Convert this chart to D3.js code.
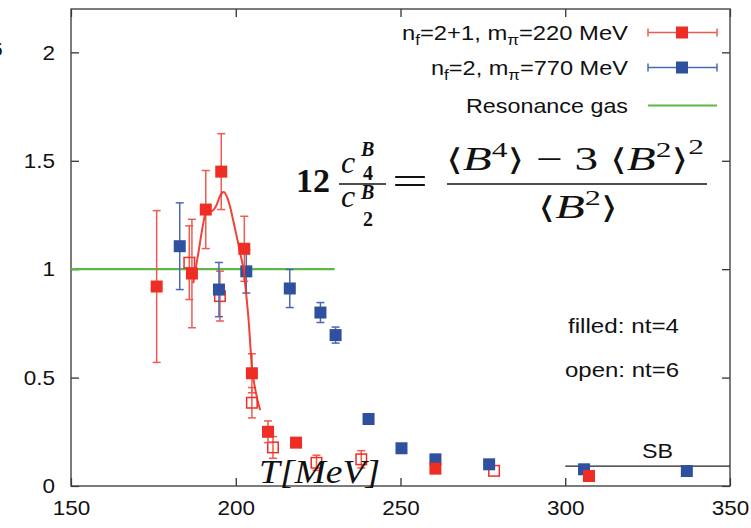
<!DOCTYPE html>
<html>
<head>
<meta charset="utf-8">
<script src="https://cdn.jsdelivr.net/npm/d3@7"></script>
<style>
  html, body { margin: 0; padding: 0; background: #fff; }
  svg { display: block; }
  .sans { font-family: "Liberation Sans", Arial, Helvetica, sans-serif; }
  .serif { font-family: "Liberation Serif", "DejaVu Serif", serif; }
</style>
</head>
<body>
<script>
// ---------------- DATA ----------------
const xTicks = [150, 200, 250, 300, 350];
const yTicks = [0, 0.5, 1, 1.5, 2];
const yTickLabels = ["0", "0.5", "1", "1.5", "2"];

// n_f=2+1, m_pi=220 MeV, filled (nt=4)
const red4T = [176.0, 186.7, 190.9, 195.6, 202.6, 204.9, 209.8, 218.3, 260.6, 307.2];
const red4Y = [0.92, 0.98, 1.275, 1.45, 1.094, 0.52, 0.25, 0.20, 0.08, 0.046];
const red4E = [0.35, 0.25, 0.18, 0.175, 0.15, 0.09, 0.05, 0.01, 0.0, 0.0];

// n_f=2+1, open (nt=6)
const red6T = [185.9, 195.2, 204.9, 211.3, 224.5, 238.1, 278.4];
const red6Y = [1.03, 0.876, 0.384, 0.178, 0.107, 0.123, 0.07];
const red6E = [0.17, 0.115, 0.07, 0.05, 0.035, 0.04, 0.01];

// n_f=2, m_pi=770 MeV
const blueT = [183.0, 194.9, 203.2, 216.4, 225.7, 230.3, 240.3, 250.3, 260.6, 276.9, 305.7, 336.9];
const blueY = [1.106, 0.906, 0.99, 0.911, 0.80, 0.696, 0.309, 0.174, 0.123, 0.10, 0.077, 0.069];
const blueE = [0.2, 0.125, 0.1, 0.088, 0.046, 0.037, 0.0, 0.0, 0.0, 0.0, 0.0, 0.0];

// fit curve through nt=4 data
const fitT = [187.1, 188.5, 190.0, 190.7, 191.8, 192.8, 194.0, 195.3, 196.3, 197.3, 198.3, 199.3, 200.3, 201.4, 202.4, 203.2, 203.9, 204.9, 206.0, 207.4];
const fitY = [0.935, 1.06, 1.2, 1.25, 1.265, 1.268, 1.29, 1.34, 1.356, 1.335, 1.287, 1.22, 1.15, 1.07, 0.995, 0.88, 0.765, 0.55, 0.44, 0.35];

// resonance gas
const hrgT = [150, 230];
const hrgY = [1, 1];
// Stefan-Boltzmann limit
const sbT = [300, 350];
const sbY = [0.092, 0.092];

const legendLabels = [
  {n: "f", a: "=2+1, m", s: "\u03c0", b: "=220 MeV"},
  {n: "f", a: "=2, m", s: "\u03c0", b: "=770 MeV"}
];

// ---------------- STYLE ----------------
const W = 751, H = 528;
const M = {left: 71, right: 730, top: 9, bottom: 486};
const RED = "#ee2d24", RED_E = "#f05a50";
const BLUE = "#2f4f9f", BLUE_E = "#4a68b4";
const GREEN = "#5cb947";
const SQ = 12, CAP = 4;
const FS = 21;

const svg = d3.select("body").append("svg").attr("width", W).attr("height", H);

const x = d3.scaleLinear().domain([150, 350]).range([M.left, M.right]);
const y = d3.scaleLinear().domain([0, 2.2]).range([M.bottom, M.top]);

function stretchTo(sel, width) {
  sel.attr("textLength", width).attr("lengthAdjust", "spacingAndGlyphs");
}
function stretchBy(sel, f) {
  sel.each(function () {
    const len = this.getComputedTextLength();
    d3.select(this).attr("textLength", len * f).attr("lengthAdjust", "spacingAndGlyphs");
  });
}

// clipped figure label fragment at far left
svg.append("text").attr("class", "sans").attr("x", -9).attr("y", 56)
  .attr("font-size", FS).attr("fill", "#111").text("6");

// axes (inward ticks, mirrored)
const axisG = svg.append("g").attr("class", "sans");
axisG.append("g").attr("transform", `translate(0,${M.bottom})`)
  .call(d3.axisBottom(x).tickValues(xTicks).tickSize(-8).tickPadding(14).tickFormat(d3.format("d")))
  .call(g => g.select(".domain").remove());
axisG.append("g").attr("transform", `translate(0,${M.top})`)
  .call(d3.axisTop(x).tickValues(xTicks).tickSize(-8).tickFormat(""))
  .call(g => g.select(".domain").remove());
axisG.append("g").attr("transform", `translate(${M.left},0)`)
  .call(d3.axisLeft(y).tickValues(yTicks).tickSize(-8).tickPadding(16).tickFormat((d, i) => yTickLabels[i]))
  .call(g => g.select(".domain").remove());
axisG.append("g").attr("transform", `translate(${M.right},0)`)
  .call(d3.axisRight(y).tickValues(yTicks).tickSize(-8).tickFormat(""))
  .call(g => g.select(".domain").remove());
axisG.selectAll(".tick line").attr("stroke", "#222").attr("stroke-width", 1.2);
axisG.selectAll(".tick text").attr("font-size", FS).attr("fill", "#111")
  .attr("font-family", "'Liberation Sans', Arial, sans-serif")
  .call(s => stretchBy(s.filter(function () { return this.textContent.length > 0; }), 1.07));

// frame
svg.append("rect").attr("x", M.left).attr("y", M.top)
  .attr("width", M.right - M.left).attr("height", M.bottom - M.top)
  .attr("fill", "none").attr("stroke", "#444").attr("stroke-width", 1.4);

const line = d3.line().x(d => x(d[0])).y(d => y(d[1]));

// resonance gas line
svg.append("path").datum(d3.zip(hrgT, hrgY)).attr("d", line)
  .attr("stroke", GREEN).attr("stroke-width", 2.2).attr("fill", "none");

// SB line
svg.append("path").datum(d3.zip(sbT, sbY)).attr("d", line)
  .attr("stroke", "#222").attr("stroke-width", 1.3).attr("fill", "none");
svg.append("text").attr("class", "sans").attr("x", 642).attr("y", 458)
  .attr("font-size", FS).attr("fill", "#111").text("SB").call(s => stretchTo(s, 31));

function errorBars(T, Y, E, color) {
  const g = svg.append("g").attr("stroke", color).attr("stroke-width", 1.5).attr("fill", "none");
  const data = d3.zip(T, Y, E).filter(d => d[2] > 0.012);
  g.selectAll("line.v").data(data).join("line")
    .attr("x1", d => x(d[0])).attr("x2", d => x(d[0]))
    .attr("y1", d => y(d[1] - d[2])).attr("y2", d => y(d[1] + d[2]));
  g.selectAll("line.t").data(data).join("line")
    .attr("x1", d => x(d[0]) - CAP).attr("x2", d => x(d[0]) + CAP)
    .attr("y1", d => y(d[1] + d[2])).attr("y2", d => y(d[1] + d[2]));
  g.selectAll("line.b").data(data).join("line")
    .attr("x1", d => x(d[0]) - CAP).attr("x2", d => x(d[0]) + CAP)
    .attr("y1", d => y(d[1] - d[2])).attr("y2", d => y(d[1] - d[2]));
}
function squares(T, Y, color, open) {
  const s = open ? SQ - 1.5 : SQ;
  svg.append("g").selectAll("rect").data(d3.zip(T, Y)).join("rect")
    .attr("x", d => x(d[0]) - s / 2).attr("y", d => y(d[1]) - s / 2)
    .attr("width", s).attr("height", s)
    .attr("fill", open ? "none" : color)
    .attr("stroke", open ? color : "none").attr("stroke-width", 1.5);
}

// open nt=6 red
errorBars(red6T, red6Y, red6E, RED_E);
squares(red6T, red6Y, RED, true);
// blue
errorBars(blueT, blueY, blueE, BLUE_E);
squares(blueT, blueY, BLUE, false);
// red filled
errorBars(red4T, red4Y, red4E, RED_E);
squares(red4T, red4Y, RED, false);

// fit curve
svg.append("path").datum(d3.zip(fitT, fitY))
  .attr("d", line.curve(d3.curveMonotoneX))
  .attr("stroke", RED).attr("stroke-width", 2).attr("fill", "none").attr("opacity", 0.9);

// ---------------- LEGEND ----------------
const legRowY = [32.5, 67.5, 105.5];
const legWidths = [226, 197, 162];
const legTextX = 628, legX1 = 648, legX2 = 717, legXc = 682;
const legColors = [[RED, RED_E], [BLUE, BLUE_E]];
legendLabels.forEach((L, i) => {
  const t = svg.append("text").attr("class", "sans").attr("x", legTextX).attr("y", legRowY[i] + 7.5)
    .attr("text-anchor", "end").attr("font-size", FS).attr("fill", "#111");
  t.append("tspan").text("n");
  t.append("tspan").attr("font-size", 15).attr("dy", 5).text(L.n);
  t.append("tspan").attr("dy", -5).text(L.a);
  t.append("tspan").attr("font-size", 15).attr("dy", 5).text(L.s);
  t.append("tspan").attr("dy", -5).text(L.b);
  stretchTo(t, legWidths[i]);
  const g = svg.append("g").attr("stroke", legColors[i][1]).attr("stroke-width", 1.5);
  g.append("line").attr("x1", legX1).attr("x2", legX2).attr("y1", legRowY[i]).attr("y2", legRowY[i]);
  g.append("line").attr("x1", legX1).attr("x2", legX1).attr("y1", legRowY[i] - CAP).attr("y2", legRowY[i] + CAP);
  g.append("line").attr("x1", legX2).attr("x2", legX2).attr("y1", legRowY[i] - CAP).attr("y2", legRowY[i] + CAP);
  svg.append("rect").attr("x", legXc - SQ / 2).attr("y", legRowY[i] - SQ / 2)
    .attr("width", SQ).attr("height", SQ).attr("fill", legColors[i][0]);
});
svg.append("text").attr("class", "sans").attr("x", legTextX).attr("y", legRowY[2] + 7.5)
  .attr("text-anchor", "end").attr("font-size", FS).attr("fill", "#111").text("Resonance gas")
  .call(s => stretchTo(s, legWidths[2]));
svg.append("line").attr("x1", legX1).attr("x2", legX2).attr("y1", legRowY[2]).attr("y2", legRowY[2])
  .attr("stroke", GREEN).attr("stroke-width", 2.2);

// ---------------- ANNOTATIONS ----------------
svg.append("text").attr("class", "sans").attr("x", 568).attr("y", 333)
  .attr("font-size", FS).attr("fill", "#111").text("filled: nt=4").call(s => stretchTo(s, 111));
svg.append("text").attr("class", "sans").attr("x", 565).attr("y", 377)
  .attr("font-size", FS).attr("fill", "#111").text("open: nt=6").call(s => stretchTo(s, 114));

// formula
const F = svg.append("g").attr("class", "serif").attr("fill", "#111");
F.append("text").attr("x", 296).attr("y", 192).attr("font-size", 34).attr("font-weight", "bold")
  .attr("textLength", 34).attr("lengthAdjust", "spacingAndGlyphs").text("12");
// c4B / c2B
const frac = [
  {cy: 173, sup: 156, sub: 180, d: "4"},
  {cy: 207, sup: 199, sub: 226, d: "2"}
];
frac.forEach(f => {
  const t = F.append("text").attr("x", 341).attr("y", f.cy).attr("font-size", 32).attr("font-style", "italic");
  t.append("tspan").text("c");
  t.append("tspan").attr("x", 361).attr("y", f.sup).attr("font-size", 20).attr("font-weight", "bold").text("B");
  t.append("tspan").attr("x", 363).attr("y", f.sub).attr("font-size", 20).attr("font-weight", "bold")
    .attr("font-style", "normal").text(f.d);
});
F.append("line").attr("x1", 339).attr("x2", 386).attr("y1", 184).attr("y2", 184).attr("stroke", "#111").attr("stroke-width", 1.6);
F.append("text").attr("x", 392).attr("y", 195).attr("font-size", 40)
  .attr("textLength", 36).attr("lengthAdjust", "spacingAndGlyphs").text("=");
// big fraction
const num = F.append("text").attr("x", 446).attr("y", 170).attr("font-size", 33)
  .attr("textLength", 258).attr("lengthAdjust", "spacingAndGlyphs");
num.append("tspan").attr("font-family", "'DejaVu Serif', serif").attr("font-size", 30).text("\u27e8");
num.append("tspan").attr("font-style", "italic").text("B");
num.append("tspan").attr("font-size", 22).attr("dy", -13).text("4");
num.append("tspan").attr("font-family", "'DejaVu Serif', serif").attr("font-size", 30).attr("dy", 13).text("\u27e9");
num.append("tspan").text(" \u2212 3 ");
num.append("tspan").attr("font-family", "'DejaVu Serif', serif").attr("font-size", 30).text("\u27e8");
num.append("tspan").attr("font-style", "italic").text("B");
num.append("tspan").attr("font-size", 22).attr("dy", -13).text("2");
num.append("tspan").attr("font-family", "'DejaVu Serif', serif").attr("font-size", 30).attr("dy", 13).text("\u27e9");
num.append("tspan").attr("font-size", 22).attr("dy", -16).text("2");
F.append("line").attr("x1", 447).attr("x2", 707).attr("y1", 184).attr("y2", 184).attr("stroke", "#111").attr("stroke-width", 1.6);
const den = F.append("text").attr("x", 538).attr("y", 218).attr("font-size", 33)
  .attr("textLength", 80).attr("lengthAdjust", "spacingAndGlyphs");
den.append("tspan").attr("font-family", "'DejaVu Serif', serif").attr("font-size", 30).text("\u27e8");
den.append("tspan").attr("font-style", "italic").text("B");
den.append("tspan").attr("font-size", 22).attr("dy", -13).text("2");
den.append("tspan").attr("font-family", "'DejaVu Serif', serif").attr("font-size", 30).attr("dy", 13).text("\u27e9");

// axis title inside plot
svg.append("text").attr("class", "serif").attr("x", 259).attr("y", 483)
  .attr("font-size", 34).attr("font-style", "italic").attr("fill", "#111")
  .attr("textLength", 121).attr("lengthAdjust", "spacingAndGlyphs").text("T[MeV]");
</script>
</body>
</html>
